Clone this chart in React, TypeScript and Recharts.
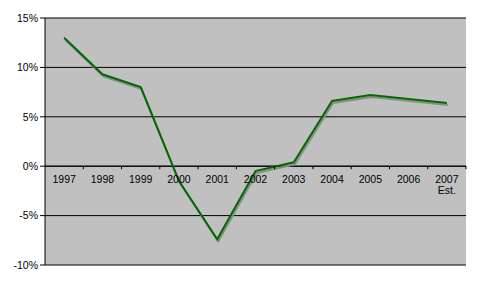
import { LineChart, Line, XAxis, YAxis, CartesianGrid, ReferenceLine } from 'recharts';

const years = ['1997', '1998', '1999', '2000', '2001', '2002', '2003', '2004', '2005', '2006', '2007 Est.'];
const growth = [13.0, 9.3, 8.0, -1.5, -7.4, -0.5, 0.4, 6.6, 7.2, 6.8, 6.4];
const yTicks = [-10, -5, 0, 5, 10, 15];

const chartData = years.map((year, i) => ({ year, value: growth[i] }));

const W = 477;
const H = 283;
const M = { top: 18, right: 11, bottom: 17, left: 0 };
const Y_AXIS_W = 45;
const X_AXIS_H = 1;
const PLOT_W = W - M.left - M.right - Y_AXIS_W;
const PLOT_H = H - M.top - M.bottom - X_AXIS_H;
const Y_MIN = yTicks[0];
const Y_MAX = yTicks[yTicks.length - 1];
const zeroY = M.top + (PLOT_H * (Y_MAX - 0)) / (Y_MAX - Y_MIN);
const band = PLOT_W / years.length;

const font = { fontFamily: '"Liberation Sans", Arial, sans-serif', fontSize: 10.5, fill: '#000' };

// category labels sit under the 0% line, ticks on band boundaries like Excel
const YearTick = (props: any) => {
  const { x, payload, index } = props;
  const lines = String(payload.value).split(' ');
  const left = x - band / 2;
  return (
    <g>
      {index > 0 && <line x1={left} x2={left} y1={zeroY} y2={zeroY + 3} stroke="#000" />}
      {index === years.length - 1 && (
        <line x1={left + band} x2={left + band} y1={zeroY} y2={zeroY + 3} stroke="#000" />
      )}
      <text x={x} y={zeroY + 17} textAnchor="middle" {...font}>
        {lines.map((l, i) => (
          <tspan key={i} x={x} dy={i === 0 ? 0 : 11}>
            {l}
          </tspan>
        ))}
      </text>
    </g>
  );
};

const App = () => {
  return (
    <div style={{ position: 'absolute', left: 0, top: 0, width: W, height: H, background: '#fff' }}>
      <style>{`.shadowLine path { filter: drop-shadow(1px 2px 0 #8a8a8a); }`}</style>
      <LineChart width={W} height={H} data={chartData} margin={M}>
        <CartesianGrid vertical={false} stroke="#000" fill="#c0c0c0" fillOpacity={1} />
        <YAxis
          width={Y_AXIS_W}
          domain={[Y_MIN, Y_MAX]}
          ticks={yTicks}
          tickFormatter={(v: number) => `${v}%`}
          axisLine={{ stroke: '#000' }}
          tickLine={{ stroke: '#000' }}
          tickSize={5}
          tickMargin={2}
          tick={font}
        />
        <ReferenceLine y={0} stroke="#000" />
        <Line
          className="shadowLine"
          type="linear"
          dataKey="value"
          stroke="#006a00"
          strokeWidth={2}
          dot={false}
          activeDot={false}
          isAnimationActive={false}
        />
        <XAxis
          dataKey="year"
          scale="band"
          height={X_AXIS_H}
          axisLine={false}
          tickLine={false}
          interval={0}
          tick={(p: any) => <YearTick {...p} />}
        />
      </LineChart>
    </div>
  );
};

export default App;
